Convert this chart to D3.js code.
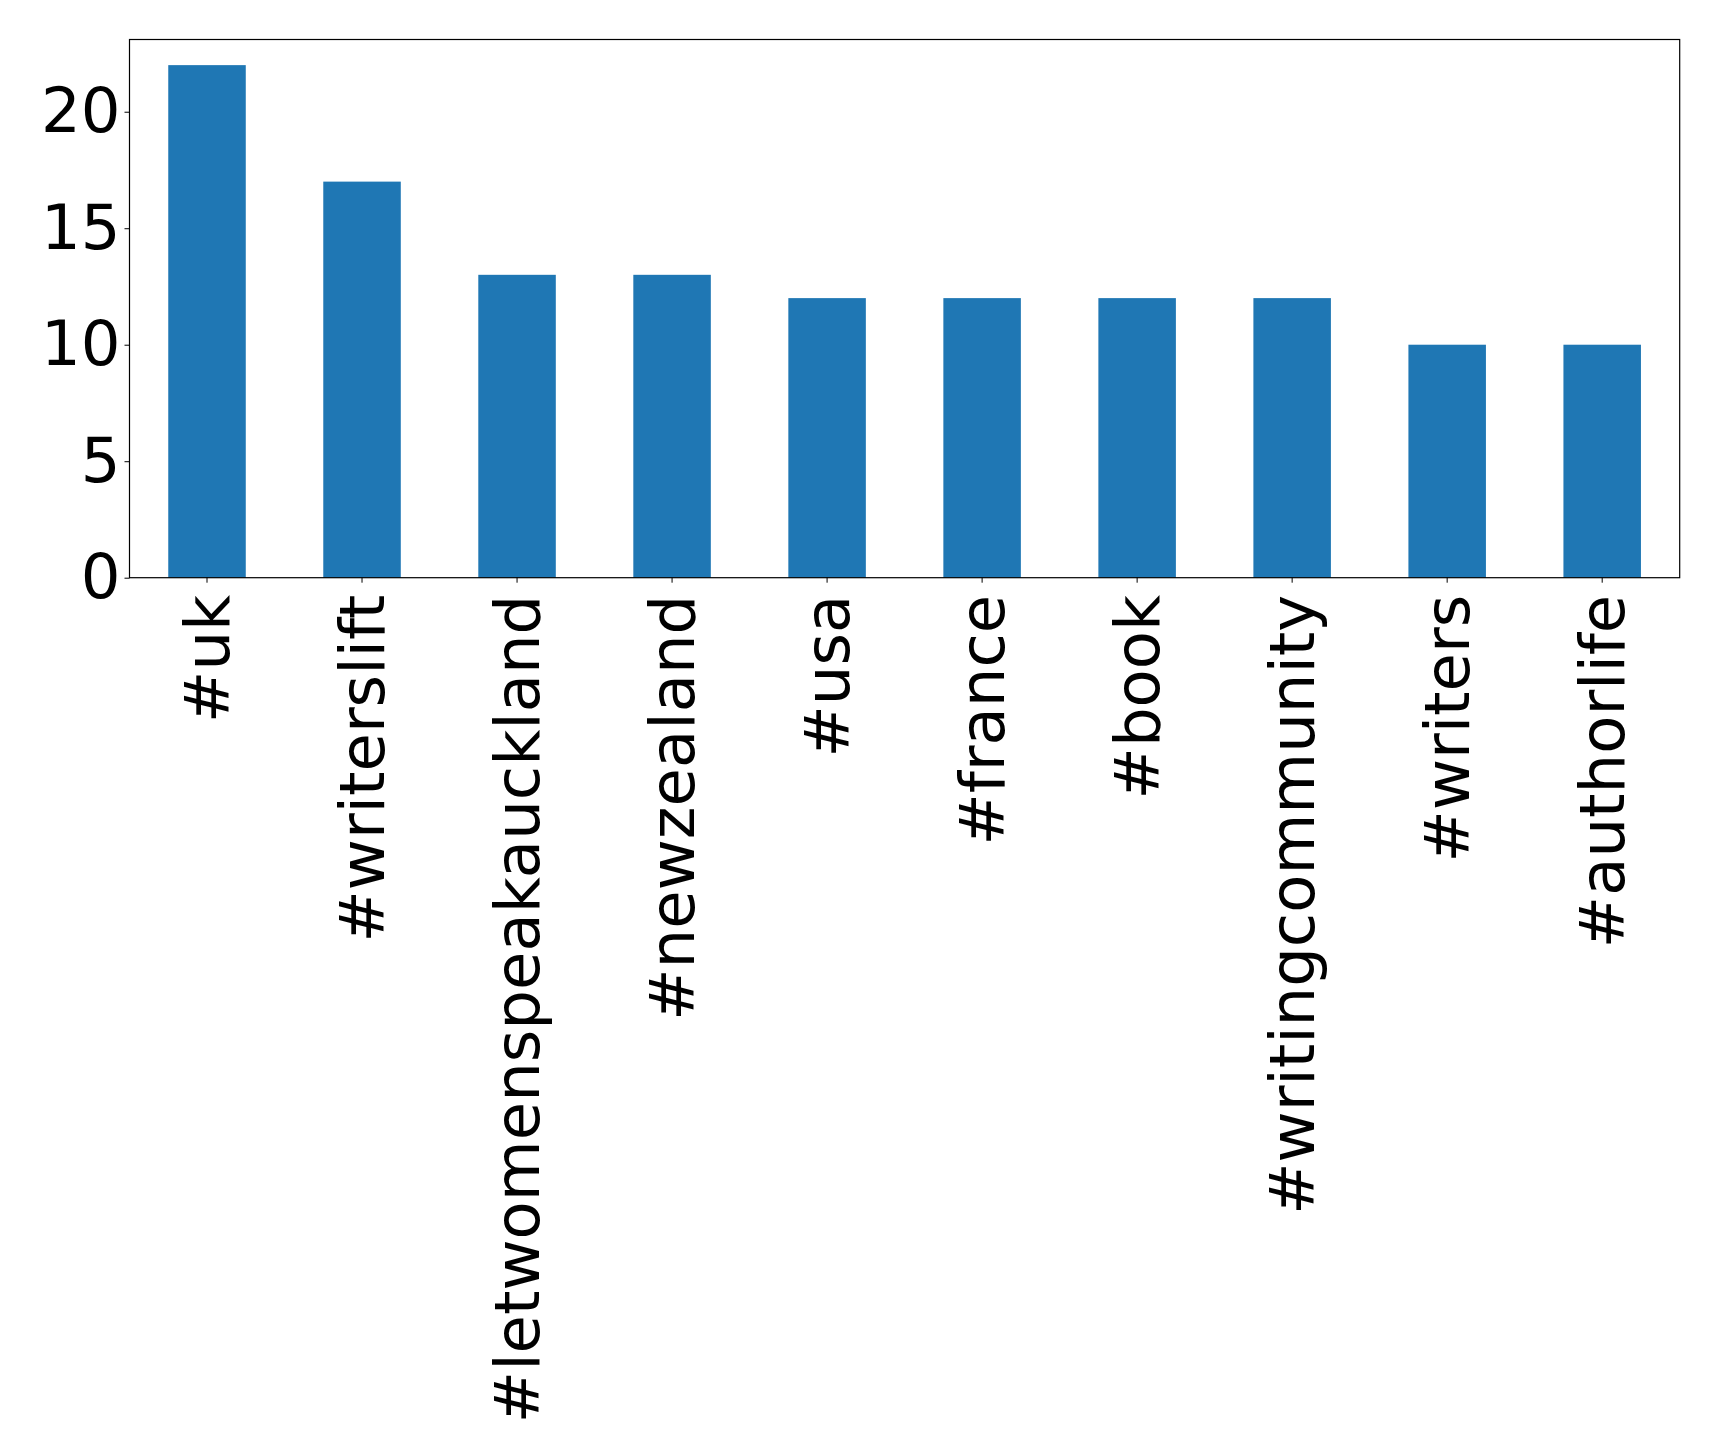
<!DOCTYPE html>
<html><head><meta charset="utf-8">
<script src="https://cdn.jsdelivr.net/npm/d3@7"></script>
<style>body{margin:0;background:#fff}svg{display:block}</style>
</head><body>
<script>
const categories = ["#uk","#writerslift","#letwomenspeakauckland","#newzealand","#usa","#france","#book","#writingcommunity","#writers","#authorlife"];
const counts = [22,17,13,13,12,12,12,12,10,10];
const yTicks = [0,5,10,15,20];

const W = 1719, H = 1456;
const m = {left:129.5, right:1679.7, top:39.5, bottom:577.7};
const fs = 62.5;
const svg = d3.select("body").append("svg").attr("width",W).attr("height",H);

const x = d3.scaleBand().domain(categories).range([m.left, m.right]).paddingInner(0.5).paddingOuter(0.25);
const y = d3.scaleLinear().domain([0, d3.max(counts)*1.05]).range([m.bottom, m.top]);

svg.append("g").selectAll("rect").data(categories).join("rect")
  .attr("x", d=>x(d)).attr("width", x.bandwidth())
  .attr("y", (d,i)=>y(counts[i])).attr("height",(d,i)=>y(0)-y(counts[i]))
  .attr("fill","#1f77b4");

const ya = svg.append("g").attr("transform",`translate(${m.left},0)`)
  .call(d3.axisLeft(y).tickValues(yTicks).tickSize(5).tickPadding(4).tickFormat(d3.format("d")));
ya.select(".domain").remove();
ya.selectAll("text").attr("font-family","DejaVu Sans").attr("font-size",fs).attr("fill","#000");
ya.selectAll("line").attr("stroke","#000").attr("stroke-width",1);

const xa = svg.append("g").attr("transform",`translate(0,${m.bottom})`)
  .call(d3.axisBottom(x).tickSize(5).tickPadding(10));
xa.select(".domain").remove();
xa.selectAll("line").attr("stroke","#000").attr("stroke-width",1);
xa.selectAll("text").attr("font-family","DejaVu Sans").attr("font-size",fs).attr("fill","#000")
  .attr("transform","rotate(-90)").attr("text-anchor","end")
  .attr("x",-17).attr("y",0).attr("dy","0.35em");

svg.append("rect").attr("x",m.left).attr("y",m.top).attr("width",m.right-m.left).attr("height",m.bottom-m.top)
  .attr("fill","none").attr("stroke","#000").attr("stroke-width",1.2);
</script>
</body></html>
